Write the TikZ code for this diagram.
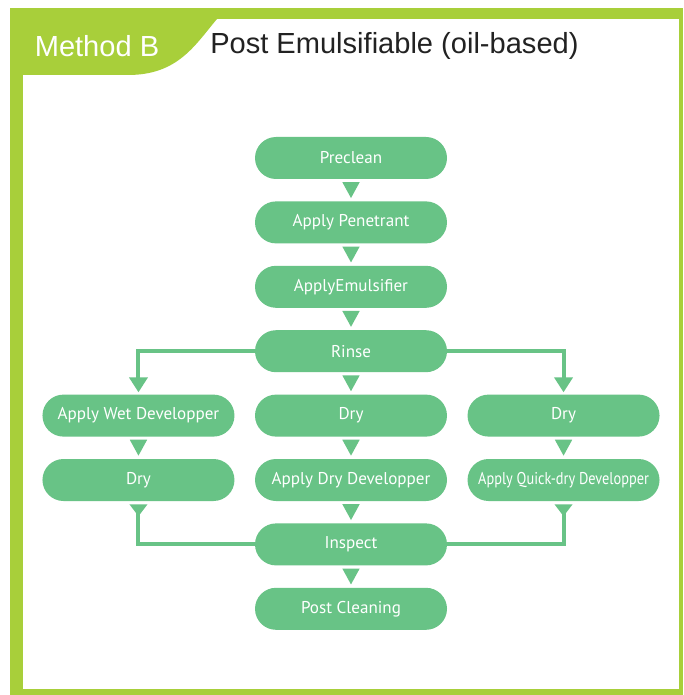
\documentclass[tikz,border=0pt]{standalone}
\usepackage{fontspec}
\setmainfont{Liberation Sans}
\newfontfamily\boxfont{PT Sans}
\usetikzlibrary{arrows.meta,positioning,calc}

\definecolor{framegreen}{HTML}{A8CF3A}
\definecolor{boxgreen}{HTML}{68C386}
\definecolor{titlegray}{HTML}{222222}

\begin{document}
\begin{tikzpicture}[
    x=0.75pt, y=-0.75pt,
    node distance=16.4pt and 15pt,
    proc/.style={rectangle, rounded corners=15.75pt, fill=boxgreen, text=white,
        minimum width=144pt, minimum height=31.5pt, inner sep=0pt,
        font=\boxfont\fontsize{12.8}{14}\selectfont},
    tri/.style={draw=boxgreen, line width=2pt, shorten <=3pt, shorten >=2.25pt,
        -{Triangle[width=12.5pt, length=12pt]}},
    elbow/.style={draw=boxgreen, line width=3pt, shorten >=1.5pt,
        -{Triangle[width=13.5pt, length=11.25pt]}},
    tailtri/.style={draw=boxgreen, line width=3pt, shorten <=2.25pt,
        {Triangle[reversed, width=13pt, length=9pt]}-}
]
    \useasboundingbox (0,0) rectangle (684,695);

    % Frame and tab
    \fill[framegreen] (10,8) rectangle (683,695);
    \fill[white] (23,19) rectangle (679,689);
    \fill[framegreen] (23,19) -- (217,19) .. controls (195,45) and (178,75) .. (128,75) -- (23,75) -- cycle;
    \node[text=white, font=\fontsize{21.8}{24}\selectfont] (method) at (97,46) {Method B};
    \node[anchor=west, inner sep=0pt, text=titlegray,
        font=\fontsize{21.8}{24}\selectfont] (title) at (210,46) {Post Emulsifiable (oil-based)};

    % Main column
    \node[proc] (preclean) at (351,158) {Preclean};
    \node[proc, below=of preclean] (penetrant) {Apply Penetrant};
    \node[proc, below=of penetrant] (emulsifier) {ApplyEmulsifier};
    \node[proc, below=of emulsifier] (rinse) {Rinse};
    \node[proc, below=of rinse] (drymid) {Dry};
    \node[proc, below=of drymid] (drydev) {Apply Dry Developper};
    \node[proc, below=of drydev] (inspect) {Inspect};
    \node[proc, below=of inspect] (postclean) {Post Cleaning};

    % Side columns
    \node[proc, left=of drymid] (wetdev) {Apply Wet Developper};
    \node[proc, below=of wetdev] (drywet) {Dry};
    \node[proc, right=of drymid] (dryquick) {Dry};
    \node[proc, below=of dryquick] (quickdev) {\scalebox{0.84}[1]{Apply Quick-dry Developper}};

    % Connections
    \path[tri] (preclean) -- (penetrant);
    \path[tri] (penetrant) -- (emulsifier);
    \path[tri] (emulsifier) -- (rinse);
    \path[tri] (rinse) -- (drymid);
    \path[tri] (drymid) -- (drydev);
    \path[tri] (drydev) -- (inspect);
    \path[tri] (inspect) -- (postclean);
    \path[tri] (wetdev) -- (drywet);
    \path[tri] (dryquick) -- (quickdev);

    \path[elbow] (rinse.west) -| (wetdev.north);
    \path[elbow] (rinse.east) -| (dryquick.north);

    \path[tailtri] (drywet.south) |- (inspect.west);
    \path[tailtri] (quickdev.south) |- (inspect.east);

\end{tikzpicture}
\end{document}
